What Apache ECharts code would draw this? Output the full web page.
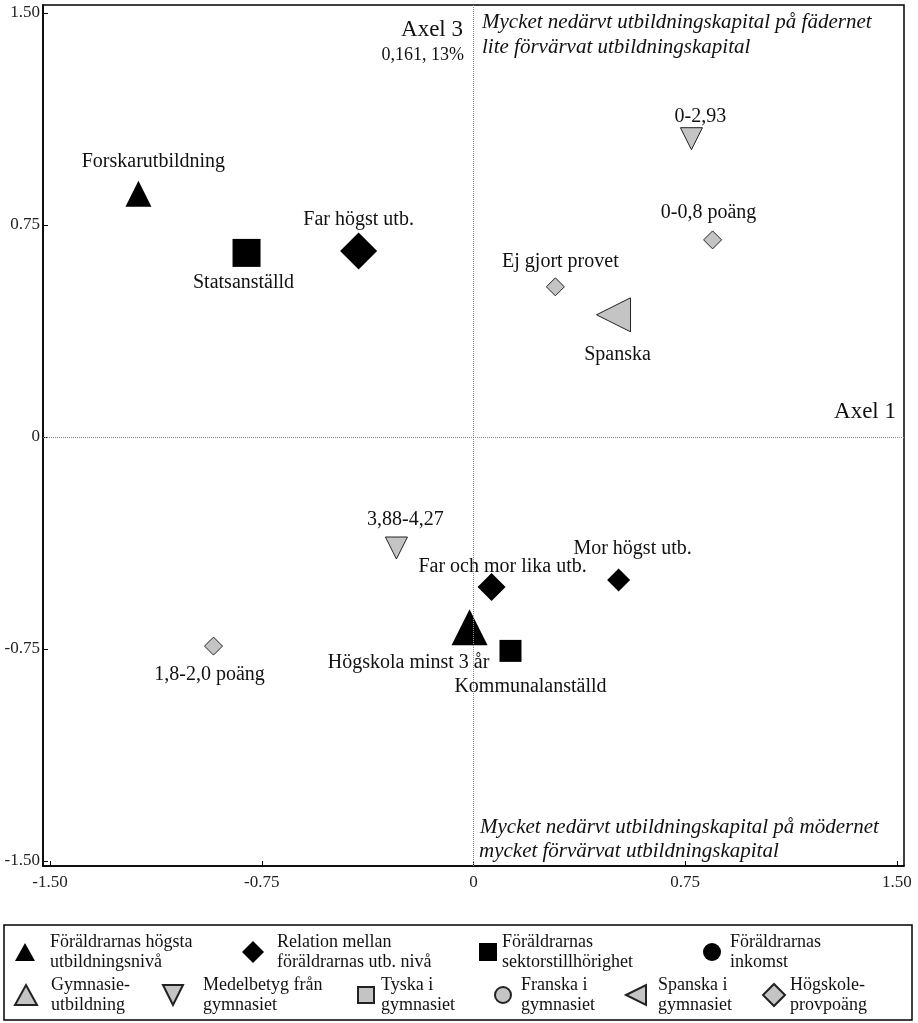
<!DOCTYPE html>
<html>
<head>
<meta charset="utf-8">
<script src="https://cdn.jsdelivr.net/npm/echarts@6/dist/echarts.min.js"></script>
<style>html,body{margin:0;padding:0;background:#fff}#chart{width:918px;height:1023px}</style>
</head>
<body>
<div id="chart"></div>
<script>
// ---- data ----
const tickValues = [-1.5, -0.75, 0, 0.75, 1.5];
const tickLabels = ['-1.50', '-0.75', '0', '0.75', '1.50'];

const seriesNames = [
  'Föräldrarnas högsta utbildningsnivå',
  'Relation mellan föräldrarnas utb. nivå',
  'Föräldrarnas sektorstillhörighet',
  'Föräldrarnas inkomst',
  'Gymnasieutbildning',
  'Medelbetyg från gymnasiet',
  'Tyska i gymnasiet',
  'Franska i gymnasiet',
  'Spanska i gymnasiet',
  'Högskoleprovpoäng'
];
const legendLabels = [
  'Föräldrarnas högsta\nutbildningsnivå',
  'Relation mellan\nföräldrarnas utb. nivå',
  'Föräldrarnas\nsektorstillhörighet',
  'Föräldrarnas\ninkomst',
  'Gymnasie-\nutbildning',
  'Medelbetyg från\ngymnasiet',
  'Tyska i\ngymnasiet',
  'Franska i\ngymnasiet',
  'Spanska i\ngymnasiet',
  'Högskole-\nprovpoäng'
];

// points per series: names, x (Axel 1), y (Axel 3)
const utbNivaNames = ['Forskarutbildning', 'Högskola minst 3 år'];
const utbNivaX = [-1.187, -0.014];
const utbNivaY = [0.860, -0.673];

const relationNames = ['Far högst utb.', 'Far och mor lika utb.', 'Mor högst utb.'];
const relationX = [-0.407, 0.064, 0.514];
const relationY = [0.658, -0.531, -0.506];

const sektorNames = ['Statsanställd', 'Kommunalanställd'];
const sektorX = [-0.804, 0.131];
const sektorY = [0.651, -0.757];

const inkomstNames = [];
const inkomstX = [];
const inkomstY = [];

const gymnNames = [];
const gymnX = [];
const gymnY = [];

const betygNames = ['0-2,93', '3,88-4,27'];
const betygX = [0.772, -0.273];
const betygY = [1.055, -0.393];

const tyskaNames = [];
const tyskaX = [];
const tyskaY = [];

const franskaNames = [];
const franskaX = [];
const franskaY = [];

const spanskaNames = ['Spanska'];
const spanskaX = [0.496];
const spanskaY = [0.432];

const hpNames = ['0-0,8 poäng', 'Ej gjort provet', '1,8-2,0 poäng'];
const hpX = [0.847, 0.290, -0.921];
const hpY = [0.697, 0.531, -0.740];

// ---- styles (not data) ----
const FONT = 'Liberation Serif';
const GRAY = '#c4c4c4';
const markerSize = {
  'Forskarutbildning': 26, 'Högskola minst 3 år': 36,
  'Far högst utb.': 37, 'Far och mor lika utb.': 28, 'Mor högst utb.': 23,
  'Statsanställd': 28, 'Kommunalanställd': 22,
  '0-2,93': 22, '3,88-4,27': 22, 'Spanska': 34,
  '0-0,8 poäng': 18, 'Ej gjort provet': 18, '1,8-2,0 poäng': 18
};
const labelOffset = {
  'Forskarutbildning': [15, -32], 'Högskola minst 3 år': [-61, 36],
  'Far högst utb.': [0, -31], 'Far och mor lika utb.': [11, -20], 'Mor högst utb.': [14, -31],
  'Statsanställd': [-3, 30], 'Kommunalanställd': [20, 36],
  '0-2,93': [9, -22], '3,88-4,27': [9, -28], 'Spanska': [4, 40],
  '0-0,8 poäng': [-4, -27], 'Ej gjort provet': [5, -25], '1,8-2,0 poäng': [-4, 29]
};
const INV_TRI = 'path://M0,0L20,0L10,20Z';
const LEFT_TRI = 'path://M0,10L20,0L20,20Z';
const seriesStyle = [
  {symbol: 'triangle', fill: '#000', border: '#000'},
  {symbol: 'diamond', fill: '#000', border: '#000'},
  {symbol: 'rect', fill: '#000', border: '#000'},
  {symbol: 'circle', fill: '#000', border: '#000'},
  {symbol: 'triangle', fill: GRAY, border: '#222'},
  {symbol: INV_TRI, fill: GRAY, border: '#222'},
  {symbol: 'rect', fill: GRAY, border: '#222'},
  {symbol: 'circle', fill: GRAY, border: '#222'},
  {symbol: LEFT_TRI, fill: GRAY, border: '#222'},
  {symbol: 'diamond', fill: GRAY, border: '#222'}
];
// legend layout: [iconCenterX, iconW, iconH, textX, rowCenterY]
const legendLayout = [
  [25, 20, 18, 50, 952],
  [253, 22, 22, 277, 952],
  [488, 18, 18, 502, 952],
  [712, 18, 18, 730, 952],
  [25, 22, 20, 50, 995],
  [173, 22, 20, 203, 995],
  [365, 16, 16, 380, 995],
  [502, 16, 16, 520, 995],
  [635, 20, 20, 657, 995],
  [773, 22, 22, 787, 995]
];

const groups = [
  [utbNivaNames, utbNivaX, utbNivaY],
  [relationNames, relationX, relationY],
  [sektorNames, sektorX, sektorY],
  [inkomstNames, inkomstX, inkomstY],
  [gymnNames, gymnX, gymnY],
  [betygNames, betygX, betygY],
  [tyskaNames, tyskaX, tyskaY],
  [franskaNames, franskaX, franskaY],
  [spanskaNames, spanskaX, spanskaY],
  [hpNames, hpX, hpY]
];

const series = groups.map(function (g, i) {
  const st = seriesStyle[i];
  const data = g[0].map(function (n, j) {
    return {
      name: n,
      value: [g[1][j], g[2][j]],
      symbolSize: markerSize[n],
      label: {offset: labelOffset[n]}
    };
  });
  const s = {
    type: 'scatter',
    name: seriesNames[i],
    symbol: st.symbol,
    itemStyle: {color: st.fill, borderColor: st.border, borderWidth: st.fill === '#000' ? 0 : 1, opacity: 1},
    label: {
      show: true, position: 'inside', formatter: '{b}',
      color: '#111', fontFamily: FONT, fontSize: 20
    },
    emphasis: {disabled: true},
    z: 3,
    data: data
  };
  if (i === 0) {
    s.markLine = {
      silent: true, symbol: 'none', animation: false,
      label: {show: false},
      lineStyle: {color: '#8a8a8a', type: [1, 1], width: 1},
      data: [{xAxis: 0}, {yAxis: 0}]
    };
  }
  return s;
});

const legends = legendLayout.map(function (L, i) {
  const iconLeft = L[0] - L[1] / 2;
  const pad = Math.max(0, L[3] - (L[0] + L[1] / 2) - 5);
  return {
    data: [seriesNames[i]],
    left: iconLeft,
    top: L[4] - 20,
    padding: 0,
    itemWidth: L[1],
    itemHeight: L[2],
    selectedMode: false,
    formatter: function () { return legendLabels[i]; },
    textStyle: {fontFamily: FONT, fontSize: 18, lineHeight: 20, color: '#111', padding: [0, 0, 0, pad]}
  };
});

const axisLabelStyle = {fontFamily: FONT, fontSize: 17, color: '#222'};

const option = {
  animation: false,
  backgroundColor: '#fff',
  grid: {left: 43, right: 14, top: 5, bottom: 157, show: true, borderColor: '#000', borderWidth: 1.5, backgroundColor: 'transparent'},
  xAxis: {
    type: 'value', min: -1.525, max: 1.525,
    axisLine: {show: true, onZero: false, lineStyle: {color: '#000', width: 1.5}},
    axisTick: {show: true, inside: true, length: 5, customValues: tickValues, lineStyle: {color: '#000'}},
    axisLabel: {show: true, margin: 8, customValues: tickValues,
      formatter: function (v) { const k = tickValues.indexOf(v); return k >= 0 ? tickLabels[k] : ''; },
      ...axisLabelStyle},
    splitLine: {show: false}
  },
  yAxis: {
    type: 'value', min: -1.518, max: 1.528,
    axisLine: {show: true, onZero: false, lineStyle: {color: '#000', width: 1.5}},
    axisTick: {show: true, inside: true, length: 5, customValues: tickValues, lineStyle: {color: '#000'}},
    axisLabel: {show: true, margin: 3, customValues: tickValues,
      formatter: function (v) { const k = tickValues.indexOf(v); return k >= 0 ? tickLabels[k] : ''; },
      ...axisLabelStyle},
    splitLine: {show: false}
  },
  legend: legends,
  series: series,
  graphic: [
    {type: 'text', x: 463, y: 30, style: {text: 'Axel 3', font: '23px "' + FONT + '"', fill: '#111', align: 'right', verticalAlign: 'middle', textAlign: 'right', textVerticalAlign: 'middle'}},
    {type: 'text', x: 464, y: 55, style: {text: '0,161, 13%', font: '18px "' + FONT + '"', fill: '#111', align: 'right', verticalAlign: 'middle', textAlign: 'right', textVerticalAlign: 'middle'}},
    {type: 'text', x: 896, y: 412, style: {text: 'Axel 1', font: '23px "' + FONT + '"', fill: '#111', align: 'right', verticalAlign: 'middle', textAlign: 'right', textVerticalAlign: 'middle'}},
    {type: 'text', x: 482, y: 22, style: {text: 'Mycket nedärvt utbildningskapital på fädernet', font: 'italic 21px "' + FONT + '"', fill: '#111', align: 'left', verticalAlign: 'middle', textAlign: 'left', textVerticalAlign: 'middle'}},
    {type: 'text', x: 482, y: 47, style: {text: 'lite förvärvat utbildningskapital', font: 'italic 21px "' + FONT + '"', fill: '#111', align: 'left', verticalAlign: 'middle', textAlign: 'left', textVerticalAlign: 'middle'}},
    {type: 'text', x: 480, y: 827, style: {text: 'Mycket nedärvt utbildningskapital på mödernet', font: 'italic 21px "' + FONT + '"', fill: '#111', align: 'left', verticalAlign: 'middle', textAlign: 'left', textVerticalAlign: 'middle'}},
    {type: 'text', x: 479, y: 851, style: {text: 'mycket förvärvat utbildningskapital', font: 'italic 21px "' + FONT + '"', fill: '#111', align: 'left', verticalAlign: 'middle', textAlign: 'left', textVerticalAlign: 'middle'}},
    {type: 'rect', shape: {x: 4, y: 925, width: 908, height: 95}, style: {fill: 'none', stroke: '#000', lineWidth: 1.5}, z: -1}
  ]
};

const chart = echarts.init(document.getElementById('chart'), null, {renderer: 'canvas'});
chart.setOption(option);
</script>
</body>
</html>
